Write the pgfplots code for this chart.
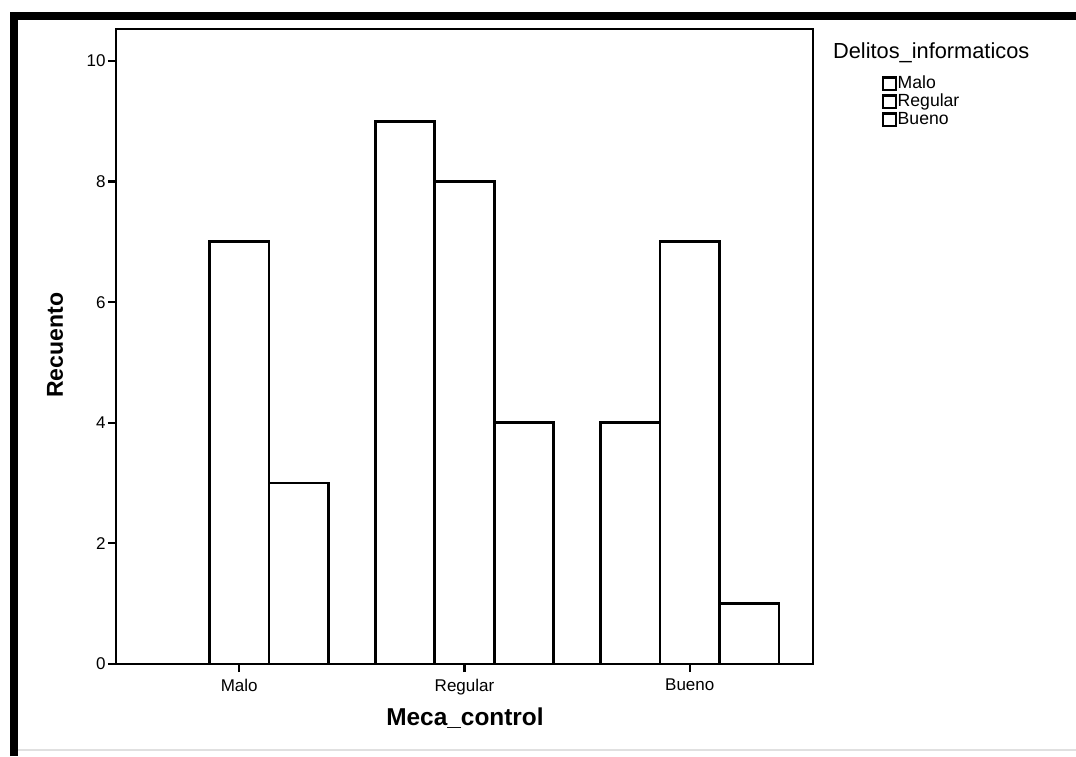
\documentclass[border=0pt]{standalone}
\usepackage{fontspec}
\setmainfont{Liberation Sans}
\usepackage{pgfplots}
\pgfplotsset{compat=1.18}
\begin{document}
\begin{tikzpicture}[x=0.5pt,y=0.5pt]
\useasboundingbox (0,0) rectangle (1076,756);
\fill[white] (0,0) rectangle (1076,756);
\draw[line width=4pt] (14,0) -- (14,742);
\draw[line width=4pt] (10,740) -- (1076,740);
\draw[black!12, line width=0.6pt] (18,6) -- (1076,6);
\begin{axis}[
  at={(58pt,46pt)}, anchor=south west,
  scale only axis, width=348.5pt, height=317.5pt,
  ymin=0, ymax=10.53, xmin=-0.547, xmax=2.547,
  ybar=0pt, bar width=0.264,
  xtick={0,1,2}, xticklabels={Malo,Regular,Bueno},
  ytick={0,2,...,10},
  tick align=outside, xtick pos=left, ytick pos=left,
  major tick length=4pt,
  tick style={black, line width=1.1pt},
  axis line style={line width=1.3pt},
  ticklabel style={font=\fontsize{8.5}{9}\selectfont},
  yticklabel style={inner sep=1pt},
  /pgf/number format/assume math mode=true,
  xlabel={\textbf{Meca\_control}},
  xlabel style={at={(axis description cs:0.5007,-0.085)}, anchor=center, font=\fontsize{12.2}{13}\selectfont},
  ylabel={\textbf{Recuento}},
  ylabel style={at={(axis description cs:-0.0875,0.502)}, anchor=center, rotate=0, font=\fontsize{11.5}{12}\selectfont},
  legend style={at={(axis description cs:1.090,0.935)}, anchor=north west, draw=none, fill=none,
    font=\fontsize{8.8}{9}\selectfont, nodes={inner sep=0.5pt, text height=6.2pt, text depth=1.8pt}, row sep=0pt, column sep=0pt},
  legend cell align=left,
  legend image code/.code={\draw[line width=1.1pt, fill=white] (0pt,-3.1pt) rectangle (6.2pt,3.1pt);},
]
\addplot[draw=black, fill=white, line width=1.4pt] coordinates {(0,0) (1,9) (2,4)};
\addplot[draw=black, fill=white, line width=1.4pt] coordinates {(0,7) (1,8) (2,7)};
\addplot[draw=black, fill=white, line width=1.4pt] coordinates {(0,3) (1,4) (2,1)};
\legend{Malo,Regular,Bueno}
\end{axis}
\node[anchor=west, font=\fontsize{10.9}{12}\selectfont] at (826,703) {Delitos\_informaticos};
\end{tikzpicture}
\end{document}
